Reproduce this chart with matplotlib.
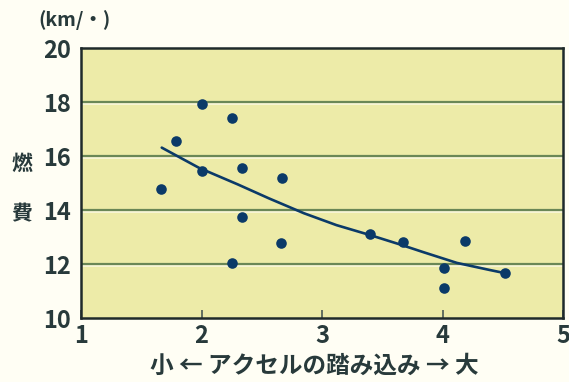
import matplotlib
matplotlib.use("Agg")
import matplotlib.pyplot as plt

# Measured points: accelerator depression vs. fuel economy
pedal = [1.66, 1.79, 2.00, 2.00, 2.25, 2.34, 2.34, 2.25, 2.67, 2.66,
         3.40, 3.67, 4.19, 4.01, 4.01, 4.52]
economy = [14.78, 16.56, 17.93, 15.44, 17.40, 15.56, 13.74, 12.04, 15.19, 12.78,
           13.10, 12.80, 12.85, 11.85, 11.10, 11.67]

# Trend curve
trend_x = [1.67, 1.98, 2.30, 2.56, 2.85, 3.12, 3.40, 3.65, 3.84, 4.12, 4.39, 4.52]
trend_y = [16.31, 15.56, 14.95, 14.43, 13.88, 13.44, 13.07, 12.72, 12.44, 12.04, 11.78, 11.66]

x_ticks = [1, 2, 3, 4, 5]
y_ticks = [10, 12, 14, 16, 18, 20]

jp_font = ["Noto Sans CJK JP", "DejaVu Sans"]

text_col = "#283a3b"
navy = "#0b3a68"
grid_col = "#6a8756"

fig = plt.figure(figsize=(5.69, 3.82), dpi=100, facecolor="#fffef4")
ax = fig.add_axes([81 / 569, 1 - 318 / 382, (563 - 81) / 569, (318 - 48) / 382])
ax.set_facecolor("#edeba8")
ax.set_xlim(1, 5)
ax.set_ylim(10, 20)

for yv in y_ticks[1:-1]:
    ax.axhline(yv - 0.08, color="#f8f6d6", lw=1.4, zorder=1)
    ax.axhline(yv, color=grid_col, lw=1.6, zorder=2)

ax.plot(trend_x, trend_y, color=navy, lw=1.9, zorder=3,
        solid_capstyle="round", solid_joinstyle="round")
ax.scatter(pedal, economy, s=58, color=navy, zorder=4, linewidths=0)

for s in ax.spines.values():
    s.set_color("#1f2a2a")
    s.set_linewidth(1.8)
    s.set_zorder(5)

ax.set_xticks(x_ticks)
ax.set_yticks(y_ticks)
ax.tick_params(axis="x", direction="in", length=6, width=1.2, color="#4a5a55", pad=4)
ax.tick_params(axis="y", length=0, pad=7)
for lab in ax.get_xticklabels() + ax.get_yticklabels():
    lab.set_fontfamily(jp_font)
    lab.set_fontweight("bold")
    lab.set_fontsize(17)
    lab.set_color(text_col)

fig.text(38 / 569, 1 - 20 / 382, "(km/・)", fontsize=14, fontweight="bold",
         color=text_col, family=jp_font, va="center", ha="left")
fig.text(22 / 569, 1 - 163 / 382, "燃", fontsize=15, fontweight="bold",
         color=text_col, family=jp_font, va="center", ha="center")
fig.text(22 / 569, 1 - 214 / 382, "費", fontsize=15, fontweight="bold",
         color=text_col, family=jp_font, va="center", ha="center")
fig.text(314 / 569, 1 - 366 / 382, "小 ← アクセルの踏み込み → 大", fontsize=17,
         fontweight="bold", color=text_col, family=jp_font, va="center", ha="center")

fig.savefig("out.png", dpi=100, facecolor=fig.get_facecolor())
